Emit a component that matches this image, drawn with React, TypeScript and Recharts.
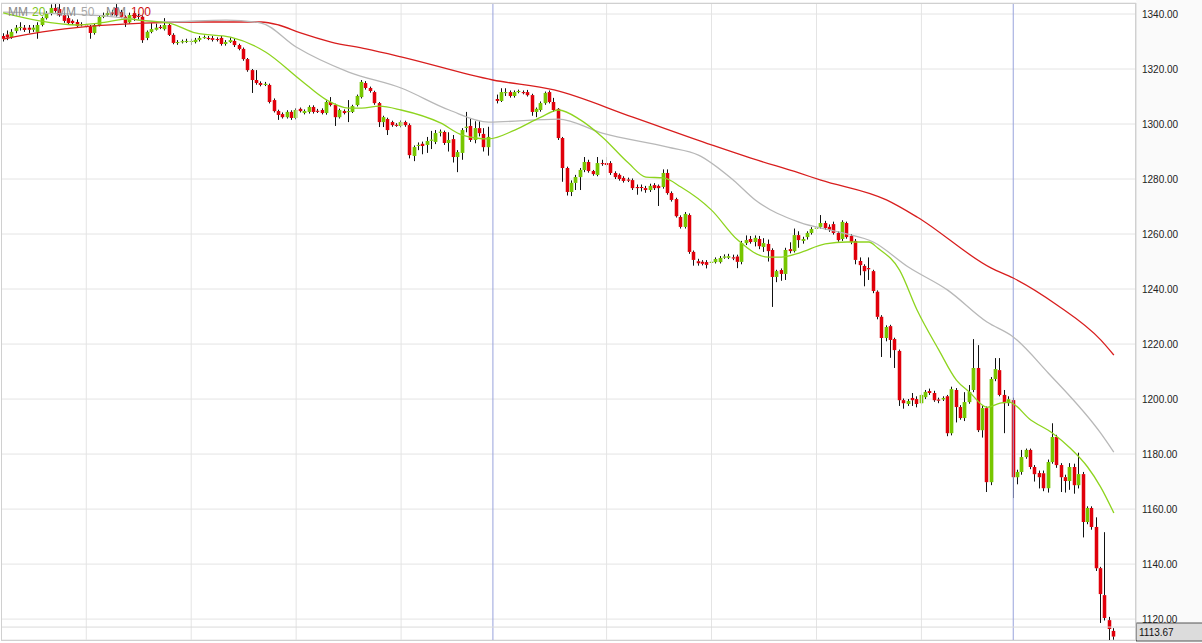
import { ComposedChart, Bar, Line, XAxis, YAxis, CartesianGrid, ReferenceLine } from "recharts"

const FONT = '"Liberation Sans", Arial, sans-serif'

// daily candles (null = empty slot at the blue separator)
const opens = [
  1332, 1332.5, 1331.6, 1333.8, 1335, 1335, 1335, 1334.3, 1333.5, 1336,
  1338.5, 1340, 1342.2, 1341.8, 1339.6, 1338.5, 1337.5, 1337.1, 1336.3, 1335.8,
  1335.3, 1333.1, 1336, 1339, 1339.6, 1340.5, 1342.2, 1340.7, 1339, 1337,
  1340.3, 1339.3, 1339, 1331.3, 1333.5, 1334.3, 1335.3, 1334.5, 1336, 1332.4,
  1329.5, 1329.8, 1330, 1330, 1329.8, 1330.6, 1331.4, 1331.3, 1331.2, 1330.9,
  1331.3, 1329.1, 1329.8, 1330.2, 1328.7, 1327.3, 1323.6, 1319.6, 1316, 1314.9,
  1314.2, 1314.2, 1308.7, 1304.7, 1303.6, 1302.5, 1304.4, 1302.2, 1305.5, 1304,
  1304.4, 1306.2, 1304.8, 1305.1, 1304, 1308, 1306.9, 1302.5, 1304.7, 1304.5,
  1304.4, 1306.9, 1309.8, 1314.9, 1313.1, 1311.6, 1307.6, 1300.7, 1301.8, 1300.7,
  1299.7, 1299.3, 1300.7, 1299.6, 1288.4, 1292.2, 1292.8, 1292.4, 1294.1, 1293.5,
  1297, 1297.1, 1293.1, 1294.5, 1288, 1289.5, 1298.7, 1299.3, 1294.2, 1298.5,
  1296.4, 1291.6, null, 1309.1, 1308.4, 1311.4, 1311.6, 1310.2, 1311.8, 1311.6,
  1311.6, 1310.5, 1304.4, 1305.1, 1307.6, 1311.6, 1308, 1305.5, 1294.9, 1284,
  1275.3, 1278.6, 1280.7, 1283.3, 1286.2, 1282.9, 1281.5, 1285.8, 1285.8, 1285.8,
  1282.2, 1281.5, 1280.4, 1279.8, 1279.6, 1277.1, 1277.1, 1276.7, 1276, 1277.8,
  1277.5, 1277.1, 1282.2, 1274.9, 1272.7, 1266.2, 1262.6, 1266.9, 1253.5, 1250.1,
  1249.9, 1249.8, 1249.8, 1249.8, 1249.8, 1251.6, 1251.4, 1251.5, 1251.8, 1249.9,
  1256.7, 1258.2, 1257.1, 1258.2, 1255.3, 1256.4, 1254.2, 1244.4, 1246.9, 1245.5,
  1254.5, 1253.8, 1259.6, 1257.5, 1258.9, 1260.4, 1262, 1262.6, 1264, 1262.6,
  1263.6, 1260.4, 1258.2, 1264, 1259.3, 1257.5, 1250.2, 1248.4, 1247.6, 1246.5,
  1239, 1229.9, 1222.2, 1226.5, 1221.8, 1217.5, 1199.6, 1198.2, 1200.4, 1200,
  1198.5, 1200.7, 1202.9, 1202.2, 1199.8, 1199.9, 1201, 1187.6, 1203.3, 1197.1,
  1193.1, 1198.9, 1203.3, 1211.3, 1188.7, 1196.7, 1169.8, 1207.3, 1210.5, 1201.5,
  1198.5, 1199.6, 1171.6, 1173.5, 1178.9, 1181.5, 1175.3, 1173.1, 1173, 1167.6,
  1177.1, 1186.2, 1176, 1171.6, 1170.2, 1175.3, 1168.7, 1172.7, 1155.3, 1160.4,
  1153.5, 1138.5, 1128.7, 1119.6, 1115.7,
]

const highs = [
  1333, 1334, 1334.5, 1336, 1337, 1336, 1336, 1336, 1337, 1339,
  1341, 1343.5, 1343.6, 1343.6, 1340.5, 1339.5, 1338, 1338, 1337, 1336.5,
  1336, 1336.5, 1339.5, 1340.5, 1341, 1341.5, 1343.6, 1341.5, 1339.5, 1340.5,
  1341, 1340, 1339.5, 1334, 1336.7, 1336.5, 1336, 1338.5, 1336.5, 1333,
  1330.5, 1330.7, 1331, 1331, 1331.3, 1332, 1332.2, 1332, 1332, 1331.5,
  1332, 1330.5, 1331.5, 1331, 1329.2, 1327.8, 1324, 1320, 1319.6, 1315.5,
  1315.3, 1314.7, 1309.3, 1305.2, 1304.2, 1305, 1305, 1305.7, 1306, 1305.3,
  1306.8, 1306.8, 1305.5, 1305.7, 1308.6, 1309.8, 1307.4, 1305.6, 1305.3, 1308.7,
  1307, 1310.7, 1316, 1315.6, 1313.6, 1312.1, 1308, 1303, 1302.3, 1301.2,
  1300.3, 1301.3, 1301.2, 1300.2, 1292.2, 1293.3, 1293.6, 1295.3, 1297.5, 1297.8,
  1298, 1297.6, 1297, 1296, 1290.5, 1298.5, 1304.4, 1302, 1301, 1301,
  1298.5, 1299, null, 1310.7, 1313, 1313, 1312.2, 1312.2, 1312.5, 1312.2,
  1312.4, 1311, 1306, 1308.2, 1311.8, 1312.2, 1309.5, 1305.8, 1295.3, 1284.5,
  1279.5, 1281.5, 1284, 1288, 1287, 1283.3, 1288, 1287, 1288, 1286.5,
  1282.8, 1282, 1281, 1280.5, 1280.2, 1278, 1278, 1277.5, 1278.3, 1278.5,
  1278, 1283.5, 1283.5, 1275.5, 1273.2, 1266.8, 1268, 1267.5, 1254, 1251,
  1250.5, 1250.5, 1250.7, 1251.5, 1252, 1252.6, 1252.8, 1252.5, 1252.5, 1257.5,
  1259.5, 1259.3, 1259.5, 1259.3, 1258.5, 1258, 1254.8, 1247, 1247.5, 1255,
  1257, 1262, 1261, 1259, 1261, 1262.5, 1263.3, 1266.9, 1264.8, 1263.5,
  1264.5, 1261, 1265, 1264.5, 1260, 1258.2, 1251.5, 1249, 1251.5, 1247,
  1239.5, 1230.5, 1226.8, 1227, 1222.3, 1218, 1200.2, 1200, 1202.2, 1201,
  1202, 1203.3, 1203.8, 1203, 1200.5, 1201, 1201.5, 1204.5, 1204, 1197.8,
  1202.5, 1205.1, 1221.8, 1219.6, 1197.5, 1197.3, 1208, 1214.9, 1214.9, 1203.3,
  1201, 1200.5, 1174.3, 1181.5, 1182, 1182, 1176, 1174, 1174, 1178,
  1191.2, 1187, 1176.7, 1172.5, 1176.7, 1176.5, 1180.5, 1173.5, 1161, 1161,
  1157, 1139, 1151.6, 1120.8, 1116.7,
]

const lows = [
  1330, 1330.5, 1331, 1333, 1334, 1333.5, 1333, 1333.5, 1331, 1335.5,
  1338, 1339.5, 1340.5, 1339, 1336.8, 1336, 1336, 1335, 1335.5, 1335,
  1331, 1332.5, 1335.5, 1338.5, 1339, 1339.5, 1339, 1338.5, 1335.3, 1336.5,
  1337.5, 1338, 1329.5, 1330.5, 1333, 1334, 1334.5, 1334, 1332, 1329,
  1328.8, 1329.3, 1329.5, 1328.7, 1329.3, 1330, 1331, 1330.5, 1330, 1330,
  1328.5, 1328.5, 1329.5, 1328, 1326.8, 1323, 1319, 1311.3, 1314.3, 1313.7,
  1313.8, 1307.5, 1304.2, 1301.5, 1302, 1302, 1301.5, 1301.7, 1304.2, 1303.5,
  1303.8, 1303.8, 1304, 1303.5, 1303.4, 1306.4, 1299.3, 1302, 1303.5, 1300.7,
  1304, 1306.4, 1309.3, 1312.5, 1311.4, 1307, 1298.9, 1298.9, 1296, 1299,
  1299, 1298.8, 1299, 1287.5, 1286.5, 1290.5, 1289, 1289.5, 1290.9, 1292.7,
  1295.5, 1292.4, 1290, 1286, 1282.5, 1287, 1297, 1293.5, 1293, 1295.5,
  1290, 1288.5, null, 1307.5, 1308, 1310.2, 1309.6, 1309.6, 1311.2, 1310.8,
  1310, 1303, 1302.5, 1304.5, 1307, 1307.5, 1304.4, 1294.2, 1279, 1274,
  1273.8, 1276, 1276, 1282.5, 1282.3, 1281.2, 1281, 1284.8, 1284.5, 1281.5,
  1280, 1279.4, 1278.7, 1278.9, 1276, 1274.3, 1275.5, 1275, 1275.3, 1276,
  1270.2, 1276.5, 1274.3, 1271.8, 1266, 1262, 1262, 1252.8, 1248.5, 1248.5,
  1248.6, 1247.5, 1248.1, 1249.3, 1249.3, 1251, 1250.9, 1250.5, 1247.6, 1249,
  1256, 1256.5, 1255.5, 1254.5, 1253.5, 1250, 1233.5, 1242.5, 1243, 1243.3,
  1253, 1253.3, 1255, 1256.5, 1258, 1259.8, 1261.2, 1262, 1261.5, 1260.8,
  1259.8, 1257.2, 1257.5, 1258.3, 1256.3, 1249, 1245, 1241, 1243.3, 1238.5,
  1229, 1215.3, 1221, 1215, 1211.3, 1197.5, 1196.5, 1197.5, 1197.5, 1197,
  1198, 1200, 1201.5, 1199, 1198.5, 1199.3, 1186.5, 1186.8, 1191.5, 1192.5,
  1192, 1198.3, 1202.5, 1188, 1186, 1166.2, 1168.7, 1206.5, 1201, 1187.6,
  1197.5, 1164, 1169, 1172.5, 1178.3, 1174.5, 1170, 1167.5, 1166.5, 1166,
  1176.5, 1175, 1166.2, 1166, 1167, 1165.6, 1167.5, 1149.7, 1154.5, 1152.5,
  1137.5, 1118.6, 1119.5, 1112.4, 1112.5,
]

const closes = [
  1331, 1331.5, 1333.5, 1335, 1335.3, 1334.2, 1334.3, 1335, 1336, 1338.5,
  1340.3, 1342.2, 1341.1, 1339.6, 1337.5, 1336.7, 1336.7, 1335.6, 1336, 1335.5,
  1333.1, 1336, 1338.9, 1339.6, 1340.3, 1340.3, 1339.6, 1339, 1336.7, 1339.6,
  1338.5, 1339.1, 1330.5, 1333.5, 1334.5, 1335, 1334.9, 1336, 1332.4, 1329.5,
  1329.8, 1330.1, 1330.2, 1330.2, 1330.6, 1331.3, 1331.6, 1330.9, 1330.6, 1330.7,
  1329.1, 1329.8, 1330.5, 1328.7, 1327.3, 1323.6, 1319.6, 1316, 1314.9, 1314.2,
  1314.6, 1308, 1304.7, 1303.3, 1302.5, 1304.4, 1302.2, 1305.1, 1304.7, 1304.7,
  1306.2, 1304.4, 1304.6, 1304, 1308, 1306.9, 1302.5, 1305.1, 1304, 1304.7,
  1306.5, 1310.2, 1315.3, 1313.1, 1312, 1307.6, 1300.7, 1302.5, 1297.8, 1299.6,
  1299.5, 1300.7, 1299.6, 1288.7, 1291.6, 1292.4, 1292, 1293.8, 1294.3, 1296.7,
  1297.2, 1293.1, 1294.2, 1288, 1289.8, 1297.8, 1299, 1294.2, 1298.5, 1296.7,
  1291.6, 1295.3, null, 1308.4, 1311.6, 1311.6, 1310.2, 1311.6, 1312, 1311.3,
  1310.5, 1304.4, 1305.5, 1307.6, 1311.3, 1308, 1305.1, 1294.9, 1284, 1275.3,
  1278.6, 1280.7, 1283.3, 1286.2, 1282.9, 1281.8, 1285.8, 1285.5, 1285.1, 1282.2,
  1280.7, 1280, 1279.3, 1279.6, 1276.7, 1276.7, 1277, 1276, 1277.5, 1276.7,
  1276.7, 1282.2, 1274.9, 1272.4, 1266.5, 1262.6, 1267.3, 1253.5, 1250.6, 1249.4,
  1249.2, 1248.8, 1249.9, 1250.9, 1251.3, 1251.8, 1251.9, 1251.3, 1249.9, 1256.7,
  1257.8, 1257.1, 1258.6, 1255.6, 1256.7, 1253.8, 1244.4, 1246.5, 1245.5, 1254.2,
  1253.8, 1259.6, 1257.8, 1258.2, 1260.4, 1261.8, 1262.3, 1264, 1262.2, 1261.5,
  1260.4, 1257.8, 1264.4, 1258.9, 1257.1, 1250.6, 1248.7, 1246.5, 1247.2, 1239.3,
  1229.9, 1222.2, 1226.2, 1221.5, 1217.8, 1199.6, 1198.5, 1199.3, 1199.6, 1198.2,
  1201.5, 1202.6, 1202.2, 1199.6, 1199.5, 1200.4, 1187.6, 1203.6, 1197.1, 1193.1,
  1198.9, 1202.6, 1211.3, 1188.7, 1196.7, 1169.8, 1207.3, 1210.9, 1201.5, 1198.5,
  1199.9, 1171.6, 1173.5, 1178.9, 1181.5, 1175.3, 1172.7, 1171.6, 1167.6, 1177.1,
  1186.2, 1176, 1171.6, 1170.2, 1175.3, 1168.7, 1172.7, 1155.3, 1160.4, 1153.5,
  1138.5, 1129.1, 1120.4, 1116.4, 1113.67,
]

// moving averages, read at a few candles each: [candle index, value]
const ma20Points = [
  [0, 1340.4], [8, 1337.6], [17, 1336], [22, 1336.7], [29, 1338.2], [31, 1337.8], [38, 1336.7],
  [44, 1333.1], [52, 1331.6], [60, 1326.2], [68, 1316], [74, 1308.7], [79, 1305.8], [82, 1305.8],
  [86, 1306.5], [91, 1305.1], [100, 1300.4], [105, 1296], [111, 1294.6], [117, 1297.8],
  [123, 1302.5], [127, 1305.1], [132, 1301.5], [137, 1295.3], [143, 1285.8], [147, 1280.7],
  [151, 1280.4], [155, 1277.1], [162, 1268.7], [168, 1257.8], [175, 1251.6], [178, 1251.6],
  [182, 1253.1], [188, 1256.4], [193, 1257.1], [198, 1257.1], [200, 1254.9], [205, 1246.9],
  [209, 1232.4], [214, 1217.8], [218, 1206.9], [221, 1202.5], [225, 1197], [228, 1198.5],
  [230, 1198.9], [235, 1192.4], [240, 1187.6], [244, 1182.2], [248, 1175.3], [251, 1168],
  [254, 1158.6],
]
const ma50Points = [
  [0, 1340.7], [23, 1339.3], [37, 1337.1], [51, 1337.8], [59, 1336.7], [67, 1328], [79, 1318.9],
  [91, 1313.1], [102, 1305.1], [111, 1300.7], [127, 1301.8], [137, 1296.7], [152, 1291.6],
  [159, 1288.7], [167, 1279.6], [172, 1272.4], [182, 1264.3], [192, 1260.4], [199, 1257.1],
  [207, 1248], [216, 1239.6], [225, 1228], [231, 1222.6], [239, 1209.5], [251, 1187.6],
  [254, 1180.7],
]
const ma100Points = [
  [0, 1330.9], [9, 1333.5], [32, 1336.7], [45, 1337.1], [59, 1337.1], [63, 1336], [68, 1333.1],
  [75, 1329.8], [83, 1327.3], [91, 1324.4], [112, 1316], [126, 1312.4], [144, 1302.5],
  [162, 1292.4], [171, 1287.6], [182, 1282.2], [187, 1279.6], [202, 1272.4], [209, 1266.2],
  [226, 1247.6], [231, 1244], [241, 1234.2], [251, 1221.5], [254, 1216],
]

const yTicks = [1120, 1140, 1160, 1180, 1200, 1220, 1240, 1260, 1280, 1300, 1320, 1340]
const monthLines = [19, 43, 67, 91, 138, 162, 186, 210]
const yearLines = [112, 231]
const lastClose = 1113.67
const markLevel = 1117.1

const data: any[] = opens.map((o, i) => ({
  i,
  open: o,
  high: highs[i],
  low: lows[i],
  close: closes[i],
  ma20: null,
  ma50: null,
  ma100: null,
}))
ma20Points.forEach(([i, v]) => (data[i].ma20 = v))
ma50Points.forEach(([i, v]) => (data[i].ma50 = v))
ma100Points.forEach(([i, v]) => (data[i].ma100 = v))

function Candle(props: any) {
  const { x, y, width, height, payload } = props
  if (!payload || payload.open == null) return null
  const { open, close, high, low } = payload
  const top = Math.min(y, y + height)
  const k = high > low ? Math.abs(height) / (high - low) : 0
  const py = (v: number) => top + (high - v) * k
  const cx = Math.floor(x + width / 2) + 0.5
  const up = close >= open
  const bTop = py(Math.max(open, close))
  const bH = Math.max(py(Math.min(open, close)) - bTop, 1)
  return (
    <g>
      <line x1={cx} x2={cx} y1={py(high)} y2={py(low)} stroke="#111" strokeWidth={1} />
      <rect x={cx - 2.2} y={bTop} width={4.4} height={bH} fill={up ? "#b8e27e" : "#f3a0a0"} />
      <rect x={cx - 1.5} y={bTop} width={3} height={bH} fill={up ? "#77c600" : "#e0000b"} />
    </g>
  )
}

function PriceTag(props: any) {
  const vb = props.viewBox
  if (!vb) return null
  const x = vb.x + vb.width
  return (
    <g>
      <rect x={x + 0.5} y={vb.y - 13.5} width={66} height={18} fill="#dcdcdc" stroke="#555" />
      <text x={x + 3} y={vb.y - 1} fontSize={10} fontFamily={FONT} fill="#111">
        {lastClose.toFixed(2)}
      </text>
    </g>
  )
}

const legend = [
  { t: "MM", c: "#8a8a8a", x: 8 },
  { t: "20", c: "#7ec41c", x: 32 },
  { t: "MM", c: "#8a8a8a", x: 56 },
  { t: "50", c: "#a8a8a8", x: 81 },
  { t: "MM", c: "#8a8a8a", x: 106 },
  { t: "100", c: "#cc1111", x: 131 },
]

export default function App() {
  return (
    <div style={{ position: "absolute", left: 0, top: 0, width: 1202, height: 643, background: "#fafafa", fontFamily: FONT }}>
      <div style={{ position: "absolute", left: 0, top: 0, width: 1136, height: 643, background: "#fff" }} />
      <div style={{ position: "absolute", left: 0, top: 0 }}>
        <ComposedChart
          width={1202}
          height={643}
          data={data}
          margin={{ top: 3, right: 0, bottom: 3, left: 1 }}
          barCategoryGap={0}
        >
          <CartesianGrid vertical={false} stroke="#e4e4e4" />
          <XAxis dataKey="i" type="category" hide padding={{ left: 0, right: 20 }} />
          <YAxis
            orientation="right"
            width={66}
            domain={[1112.4, 1344]}
            allowDataOverflow
            ticks={yTicks}
            tickFormatter={(v: number) => v.toFixed(2)}
            tick={{ fontSize: 10, fill: "#222", fontFamily: FONT }}
            tickLine={false}
            tickSize={4}
            tickMargin={2}
            axisLine={{ stroke: "#d4d4d4" }}
          />
          {monthLines.map((m) => (
            <ReferenceLine key={"m" + m} x={m} stroke="#e4e4e4" />
          ))}
          {yearLines.map((m) => (
            <ReferenceLine key={"y" + m} x={m} stroke="#98a3dc" />
          ))}
          <ReferenceLine y={markLevel} stroke="#dadada" />
          <Line dataKey="ma100" type="monotone" stroke="#d81e1e" strokeWidth={1.3} dot={false} connectNulls isAnimationActive={false} />
          <Line dataKey="ma50" type="monotone" stroke="#b8b8b8" strokeWidth={1.3} dot={false} connectNulls isAnimationActive={false} />
          <Line dataKey="ma20" type="monotone" stroke="#8ed41f" strokeWidth={1.3} dot={false} connectNulls isAnimationActive={false} />
          <Bar
            dataKey={(d: any) => (d.open == null ? null : [d.low, d.high])}
            shape={Candle}
            isAnimationActive={false}
          />
          <ReferenceLine y={lastClose} stroke="none" label={PriceTag} />
        </ComposedChart>
      </div>
      <div
        style={{
          position: "absolute",
          left: 1,
          top: 3,
          width: 1135,
          height: 638,
          boxSizing: "border-box",
          border: "1px solid #d0d0d0",
          pointerEvents: "none",
        }}
      />
      {legend.map((l, k) => (
        <span
          key={k}
          style={{
            position: "absolute",
            left: l.x,
            top: 5,
            fontSize: 12,
            lineHeight: "14px",
            fontFamily: FONT,
            color: l.c,
          }}
        >
          {l.t}
        </span>
      ))}
    </div>
  )
}
